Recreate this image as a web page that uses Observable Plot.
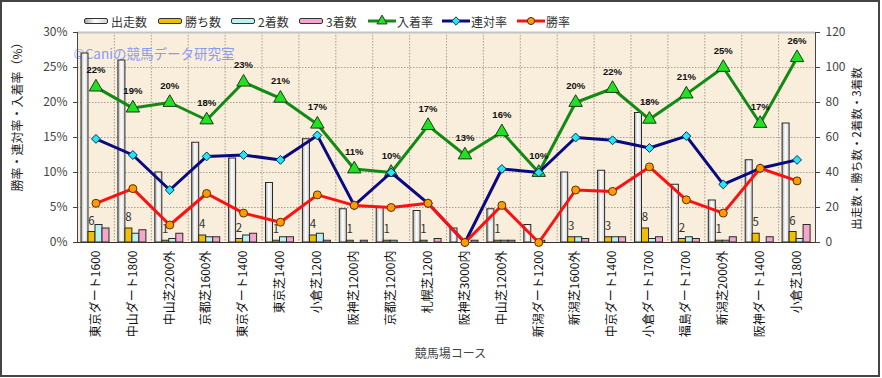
<!DOCTYPE html>
<html><head><meta charset="utf-8">
<script src="https://cdn.jsdelivr.net/npm/d3@7"></script>
<script src="https://cdn.jsdelivr.net/npm/@observablehq/plot@0.6"></script>
<style>
body{margin:0;background:#fff;}
#wrap{position:relative;width:882px;height:378px;overflow:hidden;font-family:"Noto Sans CJK JP","Noto Sans",sans-serif;}
#legend{position:relative;height:26px;}
.item{position:absolute;top:12px;height:18px;display:flex;align-items:center;font-size:12px;color:#333;white-space:nowrap;}
.sw{display:inline-block;width:22px;height:4px;border:1.5px solid #333;border-radius:2px;margin-right:3px;}
#chart svg{display:block;}
#border{position:absolute;left:0;top:0;width:876px;height:373px;border:2px solid #444;pointer-events:none;}
</style></head>
<body><div id="wrap"><div id="legend"></div><div id="chart"></div><div id="border"></div></div>
<script>
// ---- data ----
const courses = ["東京ダート1600","中山ダート1800","中山芝2200外","京都芝1600外","東京ダート1400","東京芝1400","小倉芝1200","阪神芝1200内","京都芝1200内","札幌芝1200","阪神芝3000内","中山芝1200外","新潟ダート1200","新潟芝1600外","中京ダート1400","小倉ダート1700","福島ダート1700","新潟芝2000外","阪神ダート1400","小倉芝1800"];
const starts  = [108,104,40,57,48,34,59,19,20,18,8,19,10,40,41,74,33,24,47,68];
const wins    = [6,8,1,4,2,1,4,1,1,1,0,1,0,3,3,8,2,1,5,6];
const seconds = [10,5,2,3,4,3,5,0,1,0,0,1,1,3,3,2,3,1,0,2];
const thirds  = [8,7,5,3,5,3,1,1,0,2,1,1,0,2,3,3,2,3,3,10];
const winRate    = [5.6,7.7,2.5,7.0,4.2,2.9,6.8,5.3,5.0,5.6,0,5.3,0,7.5,7.3,10.8,6.1,4.2,10.6,8.8];
const rentaiRate = [14.8,12.5,7.5,12.3,12.5,11.8,15.3,5.3,10.0,5.6,0,10.5,10.0,15.0,14.6,13.5,15.2,8.3,10.6,11.8];
const placeRate  = [22.2,19.2,20.0,17.5,22.9,20.6,16.9,10.5,10.0,16.7,12.5,15.8,10.0,20.0,22.0,17.6,21.2,25.0,17.0,26.4];
const leftTicks  = [0,5,10,15,20,25,30];
const rightTicks = [0,20,40,60,80,100,120];
const seriesNames = ["出走数","勝ち数","2着数","3着数","入着率","連対率","勝率"];
const watermark = "©Caniの競馬データ研究室";
const yTitleLeft = "勝率・連対率・入着率（%）";
const yTitleRight = "出走数・勝ち数・2着数・3着数";
const xTitle = "競馬場コース";

// ---- build ----
const k = leftTicks[leftTicks.length-1] / rightTicks[rightTicks.length-1];
const rows = courses.map((c,i)=>({c, starts:starts[i], wins:wins[i], seconds:seconds[i], thirds:thirds[i], win:winRate[i], rentai:rentaiRate[i], place:placeRate[i]}));

const W = 882, H = 352, mL = 77, mR = 67, mT = 6, mB = 136;
const bw = (W - mL - mR) / courses.length;
const barW = 7, barOff = 4;
const colors = {
  starts:"url(#gWhite)", wins:"#f0c000", seconds:"#b8f2f2", thirds:"#f4a6cc",
  place:"#138a13", rentai:"#0a0a80", win:"#ff1010",
  placeFill:"#22e022", rentaiFill:"#22e6f0", winFill:"#ff9a00"
};
const keys = ["starts","wins","seconds","thirds"];
const barMarks = keys.map((key,j)=>Plot.barY(rows.filter(d=>d[key]>0), {
  x:"c", y:d=>d[key]*k, fill:colors[key], stroke:"#2a2a2a", strokeWidth:1,
  insetLeft: barOff + j*barW, insetRight: bw - barOff - (j+1)*barW
}));

const chart = Plot.plot({
  width:W, height:H, marginTop:mT, marginLeft:mL, marginRight:mR, marginBottom:mB,
  style:{fontFamily:"'Noto Sans CJK JP','Noto Sans',sans-serif", fontSize:"12px", color:"#333", background:"transparent", overflow:"visible"},
  x:{type:"band", domain:courses, padding:0, round:false},
  y:{domain:[0,30]},
  marks:[
    Plot.frame({fill:"#f8eedb", stroke:null}),
    Plot.gridY(leftTicks.slice(1,-1), {stroke:"#9c968c", strokeOpacity:0.9, strokeDasharray:"1.5,1.5"}),
    Plot.ruleX(courses.slice(0,-1), {x:d=>d, dx:bw/2, stroke:"#9c968c", strokeOpacity:0.9, strokeDasharray:"1.5,1.5"}),
    Plot.text([watermark], {frameAnchor:"top-left", text:d=>d, dx:-4, dy:17, textAnchor:"start", fill:"#8c9af0", fontSize:13.5}),
    ...barMarks,
    Plot.ruleY([30], {stroke:"#c4c4c4", strokeWidth:2}),
    Plot.frame({anchor:"left", stroke:"#444"}),
    Plot.frame({anchor:"right", stroke:"#444"}),
    Plot.ruleY([0], {stroke:"#333"}),
    Plot.text(rows.filter(d=>d.wins>0), {x:"c", y:d=>d.wins*k, text:d=>String(d.wins), dx:-4.5, dy:-11, fontSize:11.5, fill:"#333"}),
    Plot.line(rows, {x:"c", y:"place", stroke:colors.place, strokeWidth:3}),
    Plot.dot(rows, {x:"c", y:"place", symbol:"triangle", r:5, fill:colors.placeFill, stroke:"#1b3b1b", strokeWidth:1}),
    Plot.line(rows, {x:"c", y:"rentai", stroke:colors.rentai, strokeWidth:3}),
    Plot.dot(rows, {x:"c", y:"rentai", symbol:"diamond2", r:4, fill:colors.rentaiFill, stroke:"#0a2a60", strokeWidth:1}),
    Plot.line(rows, {x:"c", y:"win", stroke:colors.win, strokeWidth:3}),
    Plot.dot(rows, {x:"c", y:"win", symbol:"circle", r:4, fill:colors.winFill, stroke:"#5a3000", strokeWidth:1}),
    Plot.text(rows, {x:"c", y:"place", text:d=>Math.round(d.place)+"%", dy:-17, fontWeight:"bold", fontSize:9.5, fontFamily:"'Liberation Sans',Arial,sans-serif", fill:"#111"}),
    Plot.axisY(leftTicks, {anchor:"left", tickFormat:d=>d+"%", tickSize:4, tickPadding:6, fontSize:12, label:null, color:"#444"}),
    Plot.axisY(leftTicks, {anchor:"right", tickFormat:d=>String(rightTicks[leftTicks.indexOf(d)]), tickSize:4, tickPadding:6, fontSize:12, label:null, color:"#444"}),
    Plot.axisX({anchor:"bottom", tickRotate:-90, tickSize:0, tickPadding:8, fontSize:12, label:null, color:"#111"}),
    Plot.text([yTitleLeft], {frameAnchor:"left", text:d=>d, rotate:-90, textAnchor:"middle", dx:-59, dy:-23.5, fontSize:12, fill:"#222"}),
    Plot.text([yTitleRight], {frameAnchor:"right", text:d=>d, rotate:-90, textAnchor:"middle", dx:42, dy:11, fontSize:11.5, fill:"#222"}),
    Plot.text([xTitle], {frameAnchor:"bottom", text:d=>d, dx:4, dy:115, fontSize:12, fill:"#444"})
  ]
});

// gradient for 出走数 bars
const defs = d3.select(chart).insert("defs", ":first-child");
const grad = defs.append("linearGradient").attr("id","gWhite").attr("x1","0").attr("x2","1").attr("y1","0").attr("y2","0");
[[0,"#a8a8a8"],[0.45,"#ffffff"],[1,"#d4d4d4"]].forEach(([o,c])=>grad.append("stop").attr("offset",o).attr("stop-color",c));
document.getElementById("chart").appendChild(chart);

// ---- legend ----
const legendStyle = [
  {type:"bar", fill:"linear-gradient(to right,#a8a8a8,#fff 45%,#d4d4d4)", left:84},
  {type:"bar", fill:colors.wins, left:158},
  {type:"bar", fill:colors.seconds, left:231},
  {type:"bar", fill:colors.thirds, left:299},
  {type:"line", stroke:colors.place, sym:"triangle", symFill:colors.placeFill, left:368},
  {type:"line", stroke:colors.rentai, sym:"diamond2", symFill:colors.rentaiFill, left:442},
  {type:"line", stroke:colors.win, sym:"circle", symFill:colors.winFill, left:517}
];
const symMap = {triangle:d3.symbolTriangle, diamond2:d3.symbolDiamond2, circle:d3.symbolCircle};
const leg = document.getElementById("legend");
seriesNames.forEach((name,i)=>{
  const s = legendStyle[i];
  const it = document.createElement("div");
  it.className = "item"; it.style.left = s.left+"px";
  if (s.type==="bar") {
    const sw = document.createElement("span"); sw.className="sw"; sw.style.background=s.fill; it.appendChild(sw);
  } else {
    const svg = d3.create("svg").attr("width",28).attr("height",12).style("margin-right","1px");
    svg.append("line").attr("x1",0).attr("x2",28).attr("y1",6).attr("y2",6).attr("stroke",s.stroke).attr("stroke-width",3);
    svg.append("path").attr("transform","translate(14,6)").attr("d",d3.symbol(symMap[s.sym], s.sym==="circle"?40:45)()).attr("fill",s.symFill).attr("stroke","#333").attr("stroke-width",1);
    it.appendChild(svg.node());
  }
  const t = document.createElement("span"); t.textContent = name; it.appendChild(t);
  leg.appendChild(it);
});
</script>
</body></html>
